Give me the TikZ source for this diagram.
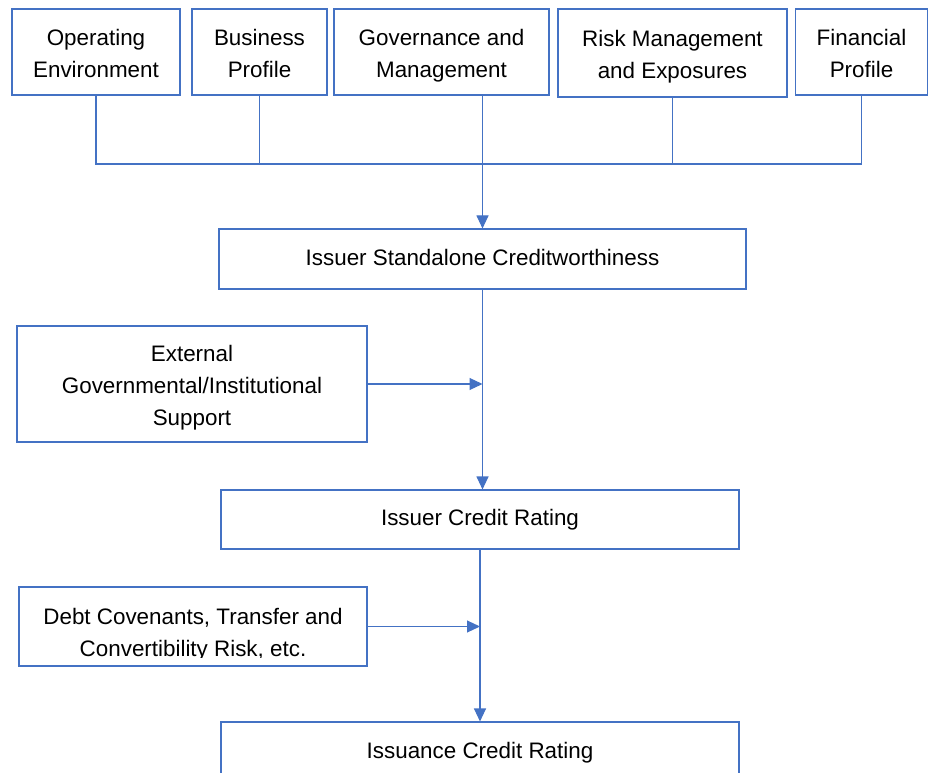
\documentclass[tikz,border=0pt]{standalone}
\usepackage{fontspec}
\setmainfont{Liberation Sans}
\usetikzlibrary{arrows.meta}
\definecolor{lineblue}{HTML}{4472C4}
\newcommand{\tstrut}{\rule{0pt}{28.4pt}}
\tikzset{
  box/.style={draw=lineblue, line width=1.1pt, fill=white, inner sep=0pt, align=center,
    font=\fontsize{22.4}{32}\selectfont, text=black},
  conn/.style={draw=lineblue, line width=1.1pt},
  arr/.style={conn, -{Triangle[length=13pt,width=12pt]}}
}
\begin{document}
\begin{tikzpicture}[x=1pt,y=-1pt]
\useasboundingbox (0,0) rectangle (930,773);
\clip (0,0) rectangle (930,773);
% top boxes
\node[box, minimum width=168pt, minimum height=86pt] (op)  at (96,52)    {\tstrut Operating\\\strut Environment};
\node[box, minimum width=135pt, minimum height=86pt] (bus) at (259.5,52) {\tstrut Business\\\strut Profile};
\node[box, minimum width=215pt, minimum height=86pt] (gov) at (441.5,52) {\tstrut Governance and\\\strut Management};
\node[box, minimum width=229pt, minimum height=88pt] (risk) at (672.5,53) {\tstrut Risk Management\\\strut and Exposures};
\node[box, minimum width=132pt, minimum height=86pt] (fin) at (861.5,52) {\tstrut Financial\\\strut Profile};
\coordinate (busline) at (0,164);
% middle chain
\node[box, minimum width=527pt, minimum height=60pt] (isc) at (482.5,259) {\strut Issuer Standalone Creditworthiness};
\node[box, minimum width=350pt, minimum height=116pt] (ext) at (192,384) {\tstrut External\\\strut Governmental/Institutional\\\strut Support};
\node[box, minimum width=518pt, minimum height=59pt] (icr) at (480,519.5) {\strut Issuer Credit Rating};
\node[box, minimum width=348pt, minimum height=79pt] (debt) at (193,626.5) {};
\begin{scope}
\clip (20,590) rectangle (366,657);
\node[font=\fontsize{22.4}{32}\selectfont, align=center, inner sep=0pt] (debttext) at (193,634.5) {\strut Debt Covenants, Transfer and\\\strut Convertibility Risk, etc.};
\end{scope}
\node[box, minimum width=518pt, minimum height=60pt] (iss) at (480,752) {\strut Issuance Credit Rating};
% bus connectors
\draw[conn] (op.south) -- (op.south |- busline) -- (fin.south |- busline) -- (fin.south);
\draw[conn] (bus.south) -- (bus.south |- busline);
\draw[conn] (risk.south) -- (risk.south |- busline);
\draw[arr] (gov.south -| isc.north) -- (isc.north);
% chain arrows
\draw[arr] (isc.south) -- (isc.south |- icr.north);
\draw[arr] (ext.east) -- (ext.east -| isc.south);
\draw[arr] (icr.south) -- (icr.south |- iss.north);
\draw[arr] (debt.east) -- (debt.east -| icr.south);
\end{tikzpicture}
\end{document}
